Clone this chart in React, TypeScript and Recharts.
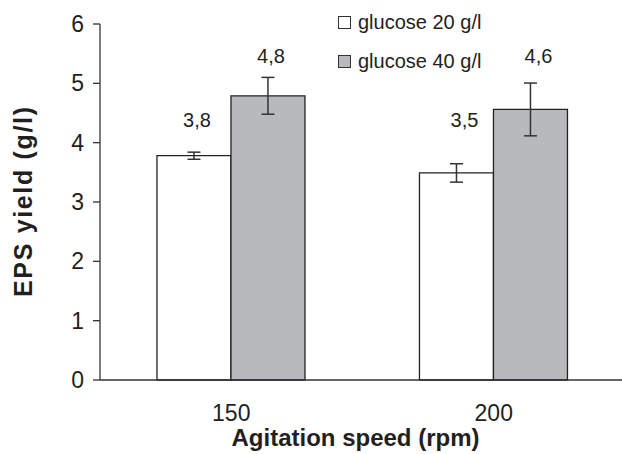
import React from 'react';
import { BarChart, Bar, XAxis, YAxis, ErrorBar, LabelList, Legend, Label } from 'recharts';

const categories = ['150', '200'];
const glucose20 = [3.78, 3.49];
const glucose40 = [4.79, 4.56];
const err20 = [0.06, 0.155];
const err40 = [0.31, 0.445];
const yTicks = [0, 1, 2, 3, 4, 5, 6];
const edgeTicks = [0, 1, 2];
const seriesNames = ['glucose 20 g/l', 'glucose 40 g/l'];

const data = categories.map((c, i) => ({
  speed: c,
  g20: glucose20[i],
  g40: glucose40[i],
  e20: err20[i],
  e40: err40[i],
}));

const FONT = '"Liberation Sans", Arial, Helvetica, sans-serif';
const INK = '#231f20';
const AXIS = '#333333';
const GREY = '#b8b9bc';
const WHITE = '#ffffff';
const fills = [WHITE, GREY];

const fmt = (v: number) => v.toFixed(1).replace('.', ',');

const makeValueLabel = (level: number, dx: number) => (props: any) => {
  const { x, y, width, height, value, index } = props;
  const base = Number(y) + Number(height);
  const perUnit = Number(height) / Number(value);
  const ly = base - level * perUnit;
  const shift = index === 1 ? dx + 5 : dx;
  return (
    <text
      x={Number(x) + Number(width) / 2 + shift}
      y={ly}
      textAnchor="middle"
      dominantBaseline="central"
      fontSize={20}
      fontFamily={FONT}
      fill={INK}
    >
      {fmt(Number(value))}
    </text>
  );
};

const renderLegend = () => (
  <div style={{ fontFamily: FONT, color: INK, fontSize: 20 }}>
    {seriesNames.map((n, i) => (
      <div key={n} style={{ display: 'flex', alignItems: 'center', height: 39 }}>
        <div
          style={{
            width: 11,
            height: 11,
            border: `1px solid ${AXIS}`,
            background: fills[i],
            marginRight: 7,
          }}
        />
        <span>{n}</span>
      </div>
    ))}
  </div>
);

export default function App() {
  return (
    <div style={{ position: 'absolute', left: 0, top: 0, width: 622, height: 454, overflow: 'hidden', background: '#fff' }}>
      <BarChart
        width={640}
        height={454}
        data={data}
        margin={{ top: 24, right: 15, bottom: 0, left: 0 }}
        barCategoryGap="21.7%"
        barGap={0}
      >
        <XAxis
          xAxisId="edges"
          type="number"
          domain={[0, 2]}
          ticks={edgeTicks}
          allowDataOverflow
          axisLine={false}
          tickLine={{ stroke: AXIS, strokeWidth: 1.3 }}
          tickSize={6}
          tickFormatter={() => ''}
          height={0}
        />
        <XAxis
          xAxisId="cat"
          dataKey="speed"
          type="category"
          axisLine={{ stroke: AXIS, strokeWidth: 1.3 }}
          tickLine={false}
          tickSize={0}
          tickMargin={25}
          tick={{ fontSize: 23, fontFamily: FONT, fill: INK }}
          height={74}
        >
          <Label
            content={(p: any) => {
              const vb = p.viewBox;
              return (
                <text
                  x={vb.x + vb.width / 2 - 7}
                  y={vb.y + 66}
                  textAnchor="middle"
                  fontSize={24}
                  fontWeight="bold"
                  fontFamily={FONT}
                  fill={INK}
                >
                  Agitation speed (rpm)
                </text>
              );
            }}
          />
        </XAxis>
        <YAxis
          domain={[0, 6]}
          ticks={yTicks}
          width={100}
          axisLine={{ stroke: AXIS, strokeWidth: 1.3 }}
          tickLine={{ stroke: AXIS, strokeWidth: 1.3 }}
          tickSize={7}
          tickMargin={9}
          tick={{ fontSize: 23, fontFamily: FONT, fill: INK }}
        >
          <Label
            content={(p: any) => {
              const vb = p.viewBox;
              const cx = vb.x + 23;
              const cy = vb.y + vb.height / 2;
              return (
                <text
                  x={cx}
                  y={cy}
                  transform={`rotate(-90, ${cx}, ${cy})`}
                  textAnchor="middle"
                  dominantBaseline="central"
                  fontSize={25}
                  fontWeight="bold"
                  fontFamily={FONT}
                  fill={INK}
                  textLength={190}
                  lengthAdjust="spacing"
                >
                  EPS yield (g/l)
                </text>
              );
            }}
          />
        </YAxis>
        <Legend
          layout="vertical"
          verticalAlign="middle"
          align="center"
          content={renderLegend}
          wrapperStyle={{ top: 3, left: 338, width: 220, height: 80 }}
        />
        <Bar
          xAxisId="cat"
          dataKey="g20"
          name={seriesNames[0]}
          fill={WHITE}
          stroke="#222"
          strokeWidth={1.3}
          isAnimationActive={false}
        >
          <ErrorBar dataKey="e20" width={6.5} stroke="#333" strokeWidth={1.5} direction="y" />
          <LabelList dataKey="g20" content={makeValueLabel(4.38, 3)} />
        </Bar>
        <Bar
          xAxisId="cat"
          dataKey="g40"
          name={seriesNames[1]}
          fill={GREY}
          stroke="#222"
          strokeWidth={1.3}
          isAnimationActive={false}
        >
          <ErrorBar dataKey="e40" width={6.5} stroke="#333" strokeWidth={1.5} direction="y" />
          <LabelList dataKey="g40" content={makeValueLabel(5.46, 3)} />
        </Bar>
      </BarChart>
    </div>
  );
}
